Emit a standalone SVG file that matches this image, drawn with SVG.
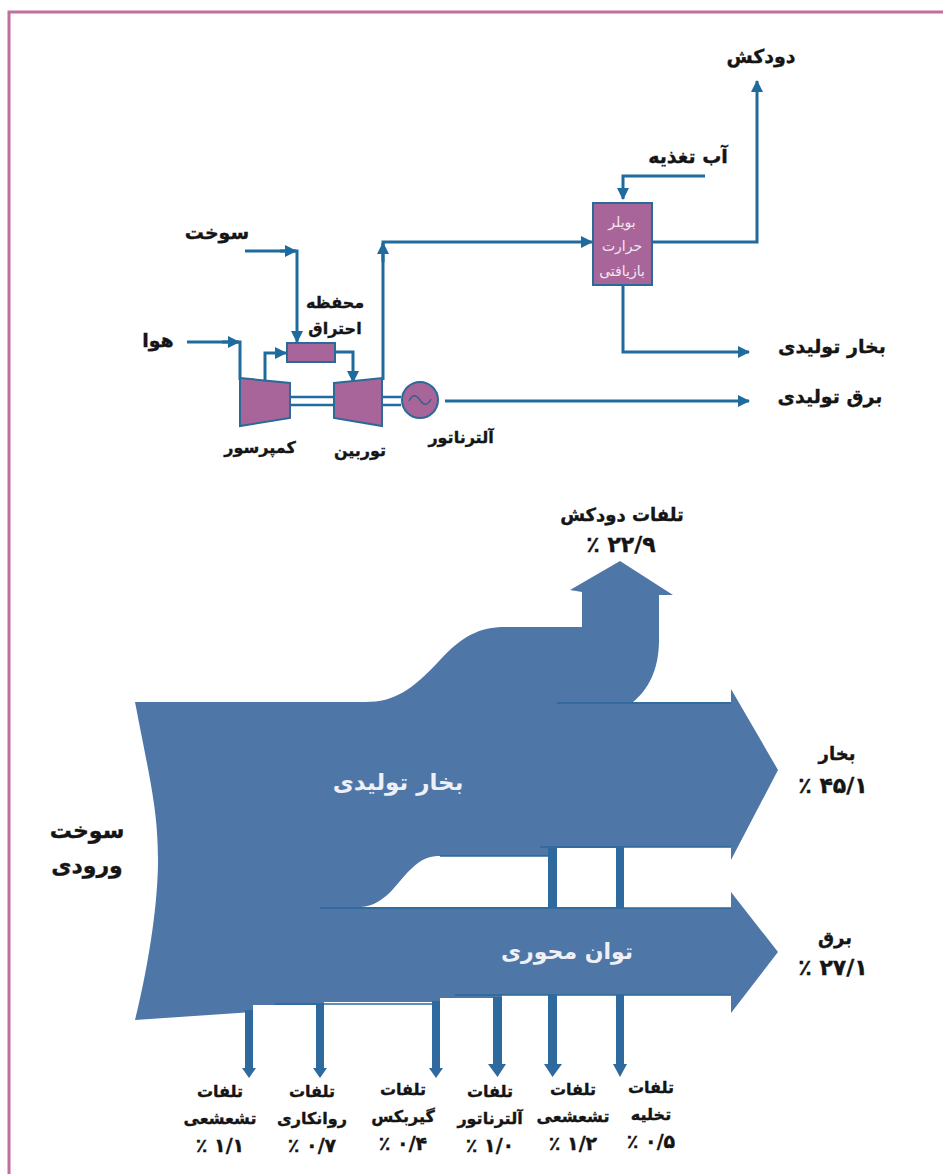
<svg xmlns="http://www.w3.org/2000/svg" width="943" height="1174" viewBox="0 0 943 1174">
<style>
text{font-family:"DejaVu Sans","Noto Sans",sans-serif;font-weight:bold;fill:#151515;stroke:#151515;stroke-width:.35;text-anchor:middle;direction:rtl;unicode-bidi:embed}
.s{font-size:16px}.m{font-size:18px}.l{font-size:19px}.x{font-size:22px}.p{font-size:19px}.q{font-size:22px}
.w{fill:#eef0f6;stroke:none;font-size:23px}.b{font-size:14px;font-weight:normal;fill:#f4e6f0;stroke:none}
.c{fill:none;stroke:#1f6b9e;stroke-width:3}.t{fill:none;stroke:#1f6b9e;stroke-width:2.5}
.n{fill:#a8659a;stroke:#2a6a96;stroke-width:2}.f{fill:#4e77a8}.d{fill:#2f6a9f}.e{fill:none;stroke:#2a6a9c;stroke-width:1.5}
</style>
<defs><marker id="a" markerUnits="userSpaceOnUse" markerWidth="14" markerHeight="14" refX="11" refY="7" orient="auto"><path d="M0 1L12 7L0 13Z" fill="#1f6b9e"/></marker></defs>
<rect width="943" height="1174" fill="#fff"/>
<path d="M9 1174V12H943" fill="none" stroke="#c06f9e" stroke-width="3"/>
<g id="connectors">
<path class="c" d="M245 251H297V342" marker-end="url(#a)"/>
<path class="c" d="M280 251H296" marker-end="url(#a)"/>
<path class="c" d="M187 342H240V380"/>
<path class="c" d="M222 342H239" marker-end="url(#a)"/>
<path class="c" d="M265 382V353H286" marker-end="url(#a)"/>
<path class="c" d="M335 352H353V382" marker-end="url(#a)"/>
<path class="c" d="M383 380V242H592" marker-end="url(#a)"/>
<path class="c" d="M383 262V243" marker-end="url(#a)"/>
<path class="t" d="M290 397H334M290 405H334M382 397H401M382 405H401"/>
<path class="c" d="M445 401H749" marker-end="url(#a)"/>
<path class="c" d="M705 176H623V199" marker-end="url(#a)"/>
<path class="c" d="M652 242H757V81" marker-end="url(#a)"/>
<path class="c" d="M623 285V352H749" marker-end="url(#a)"/>
</g>
<g id="compressor"><path class="n" d="M240 378L290 383V418L240 426Z"/><text class="s" x="260" y="453">کمپرسور</text></g>
<g id="turbine"><path class="n" d="M334 383L382 378V426L334 418Z"/><text class="s" x="360" y="456">توربین</text></g>
<g id="combustor"><rect class="n" x="287" y="343" width="48" height="19"/><text class="s" x="335" y="308">محفظه</text><text class="s" x="335" y="334">احتراق</text></g>
<g id="alternator"><circle class="n" cx="420" cy="400" r="18"/><path d="M409 401Q414 391 420 400T431 399" fill="none" stroke="#3a5f86" stroke-width="1.500"/><text class="s" x="461" y="443">آلترناتور</text></g>
<g id="boiler"><rect class="n" x="593" y="203" width="59" height="82"/><text class="b" x="622" y="227">بویلر</text><text class="b" x="622" y="251">حرارت</text><text class="b" x="622" y="276">بازیافتی</text></g>
<g id="labels-top">
<text class="l" x="217" y="239">سوخت</text><text class="l" x="158" y="347">هوا</text>
<text class="l" x="761" y="63">دودکش</text><text class="l" x="688" y="163">آب تغذیه</text>
<text class="l" x="832" y="353">بخار تولیدی</text><text class="l" x="830" y="403">برق تولیدی</text>
</g>
<g id="sankey">
<path class="f" d="M135 702H365C395 702 412 690 440 660C462 636 480 627 505 627H582V592L570 590L620 561L673 595H659V640C659 670 648 690 633 702H731V689L778 770L731 860V847H624V908H731V892L778 952L731 1013V995H502V998H440V1002H324V1005H253V1012L135 1020C150 960 158 900 158 860C158 810 150 780 135 702ZM361 907C385 905 395 885 410 870C422 858 430 856 441 856H548V907ZM557 848H616V907H557Z" fill-rule="evenodd"/>
<path class="e" d="M557 703H731M320 908H731M540 847H731M455 995H731M275 1004H440M440 856H548"/>
<path class="d" d="M245 1010H253V1068L256 1068L249 1078L242 1068H245ZM316 1004H324V1068L327 1068L320 1078L313 1068H316ZM432 1001H440V1068L443 1068L436 1078L429 1068H432ZM493 997H502V1064H506L497.500 1077L488 1064H493ZM548 995H557V1064H562L552.500 1077L544 1064H548ZM616 995H624V1064H627L620 1077L613 1064H616Z"/>
<path class="d" d="M548 848H557V908H548ZM616 848H624V908H616Z"/>
<text class="w" x="398" y="790">بخار تولیدی</text>
<text class="w" x="567" y="959" style="font-size:22px">توان محوری</text>
</g>
<g id="labels-sankey">
<text class="m" x="622" y="521">تلفات دودکش</text><text class="q" x="621" y="552">۲۲/۹ ٪</text>
<text class="m" x="837" y="760">بخار</text><text class="q" x="833" y="793">۴۵/۱ ٪</text>
<text class="m" x="835" y="944">برق</text><text class="q" x="833" y="975">۲۷/۱ ٪</text>
<text class="x" x="87" y="838">سوخت</text><text class="x" x="87" y="873">ورودی</text>
</g>
<g id="loss-1"><text class="s" x="220" y="1097">تلفات</text><text class="s" x="220" y="1124">تشعشعی</text><text class="p" x="220" y="1152">۱/۱ ٪</text></g>
<g id="loss-2"><text class="s" x="312" y="1097">تلفات</text><text class="s" x="312" y="1124">روانکاری</text><text class="p" x="312" y="1152">۰/۷ ٪</text></g>
<g id="loss-3"><text class="s" x="403" y="1095">تلفات</text><text class="s" x="403" y="1122">گیربکس</text><text class="p" x="403" y="1150">۰/۴ ٪</text></g>
<g id="loss-4"><text class="s" x="490" y="1097">تلفات</text><text class="s" x="490" y="1124">آلترناتور</text><text class="p" x="490" y="1152">۱/۰ ٪</text></g>
<g id="loss-5"><text class="s" x="573" y="1095">تلفات</text><text class="s" x="573" y="1122">تشعشعی</text><text class="p" x="573" y="1150">۱/۲ ٪</text></g>
<g id="loss-6"><text class="s" x="651" y="1093">تلفات</text><text class="s" x="651" y="1120">تخلیه</text><text class="p" x="651" y="1148">۰/۵ ٪</text></g>
</svg>
